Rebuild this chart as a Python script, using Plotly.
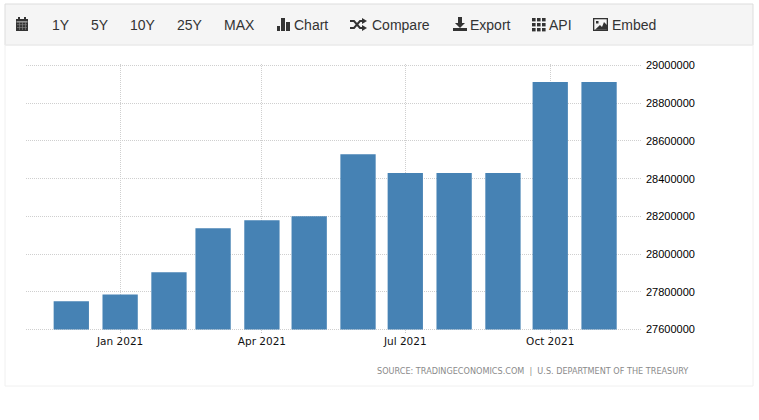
import plotly.graph_objects as go

W, H = 759, 420
dates = ["2020-12-01", "2021-01-01", "2021-02-01", "2021-03-01", "2021-04-01", "2021-05-01",
         "2021-06-01", "2021-07-01", "2021-08-01", "2021-09-01", "2021-10-01", "2021-11-01"]
values = [27750000, 27786000, 27903000, 28137000, 28180000, 28200000,
          28530000, 28430000, 28430000, 28430000, 28913000, 28913000]
y_ticks = [27600000, 27800000, 28000000, 28200000, 28400000, 28600000, 28800000, 29000000]
x_ticks = ["2021-01-01", "2021-04-01", "2021-07-01", "2021-10-01"]
x_labels = ["Jan 2021", "Apr 2021", "Jul 2021", "Oct 2021"]
menu_labels = ["1Y", "5Y", "10Y", "25Y", "MAX", "Chart", "Compare", "Export", "API", "Embed"]
menu_left = [52, 91, 130, 177, 224, 294, 372, 470, 549, 612]
source = "SOURCE: TRADINGECONOMICS.COM  |  U.S. DEPARTMENT OF THE TREASURY"
baseline = 27600000

BAR_WIDTH_MS = 22.4 * 86400000
ICON = "#333333"


def px(x):
    return x / W


def py(y):
    return 1 - y / H


def box(x0, y0, x1, y1, fill, line=None):
    return dict(type="rect", xref="paper", yref="paper", x0=px(x0), x1=px(x1), y0=py(y1), y1=py(y0),
                fillcolor=fill, line=dict(color=line or fill, width=1 if line else 0), layer="above")


def poly(points, fill=ICON):
    d = "M " + " L ".join(f"{px(a):.5f},{py(b):.5f}" for a, b in points) + " Z"
    return dict(type="path", xref="paper", yref="paper", path=d, fillcolor=fill, line=dict(width=0), layer="above")


def stroke(points, width=2):
    d = "M " + " L ".join(f"{px(a):.5f},{py(b):.5f}" for a, b in points)
    return dict(type="path", xref="paper", yref="paper", path=d, line=dict(color=ICON, width=width), layer="above")


shapes = [
    box(5, 45, 753, 386, "rgba(0,0,0,0)", "#f0f0f0"),
    dict(box(5, 4, 753, 45, "#f5f5f5", "#dddddd"), layer="below"),
]
# calendar
shapes += [box(16, 19, 28, 31, ICON), box(18, 17, 20, 19, ICON), box(24, 17, 26, 19, ICON), box(16.5, 21.5, 27.5, 22.3, "#f5f5f5")]
for xx in (19, 22, 25):
    shapes.append(box(xx, 22, xx + 0.6, 30, "#8a8a8a"))
for yy in (24.5, 27):
    shapes.append(box(17, yy, 27, yy + 0.6, "#8a8a8a"))
# bar icon
shapes += [box(277, 26, 280, 31, ICON), box(281, 18, 285, 31, ICON), box(286, 22, 290, 31, ICON)]
# shuffle icon
shapes += [
    stroke([(350, 21), (354, 21), (360, 28), (363, 28)]),
    stroke([(350, 28), (354, 28), (360, 21), (363, 21)]),
    poly([(362, 18), (367, 21), (362, 24)]),
    poly([(362, 25), (367, 28), (362, 31)]),
]
# export icon
shapes += [
    poly([(458, 17), (462, 17), (462, 23), (465, 23), (460, 28), (455, 23), (458, 23)]),
    box(453, 28, 467, 31, ICON),
]
# grid icon
for gy in (18, 23, 28):
    for gx in (532, 537, 542):
        shapes.append(box(gx, gy, gx + 3.6, gy + 3.4, ICON))
# image icon
shapes += [
    box(593, 18, 608, 31, ICON),
    box(594.3, 19.3, 606.7, 29.7, "#f5f5f5"),
    box(596, 21, 598.5, 23.5, ICON),
    poly([(595, 29.7), (600, 25), (602, 27), (604, 22), (607, 25), (607, 29.7)]),
]

annotations = [
    dict(text=t, x=px(x), y=py(25), xref="paper", yref="paper", xanchor="left", yanchor="middle",
         showarrow=False, xshift=-2, font=dict(family="Liberation Sans", size=14, color="#333333"))
    for t, x in zip(menu_labels, menu_left)
]
annotations.append(dict(text=source, x=px(690), y=py(371), xref="paper", yref="paper", xanchor="right",
                        yanchor="middle", showarrow=False,
                        font=dict(family="DejaVu Sans", size=8.15, color="#8a8a8a")))

fig = go.Figure(go.Bar(x=dates, y=[v - baseline for v in values], base=baseline, width=BAR_WIDTH_MS,
                       marker=dict(color="#4682b4", line=dict(width=0))))
fig.update_layout(
    width=W, height=H, margin=dict(l=0, r=0, t=0, b=0, pad=0, autoexpand=False),
    paper_bgcolor="white", plot_bgcolor="white",
    showlegend=False, shapes=shapes, annotations=annotations,
    xaxis=dict(domain=[26 / W, 642 / W], type="date", range=["2020-11-02 06:00", "2021-11-28 06:00"], automargin=False,
               tickvals=x_ticks, ticktext=x_labels, showgrid=True, gridcolor="#cfcfcf", griddash="1px,1px", gridwidth=1,
               zeroline=False, showline=False, ticks="outside", ticklen=1, tickcolor="#c4c4c4",
               tickfont=dict(family="DejaVu Sans", size=10.5, color="#111111")),
    yaxis=dict(domain=[1 - 330.8 / H, 1 - 64.2 / H], side="right", range=[27593000, 29007000], tickvals=y_ticks,
               automargin=False, ticktext=[str(v) for v in y_ticks], showgrid=True, gridcolor="#cfcfcf",
               griddash="1px,1px", gridwidth=1, zeroline=False, showline=False, ticks="", ticklabelstandoff=3,
               tickfont=dict(family="Liberation Sans", size=11, color="#000000")),
)
fig.write_html("out.html", config=dict(displayModeBar=False), post_script="document.body.style.margin='0';")
